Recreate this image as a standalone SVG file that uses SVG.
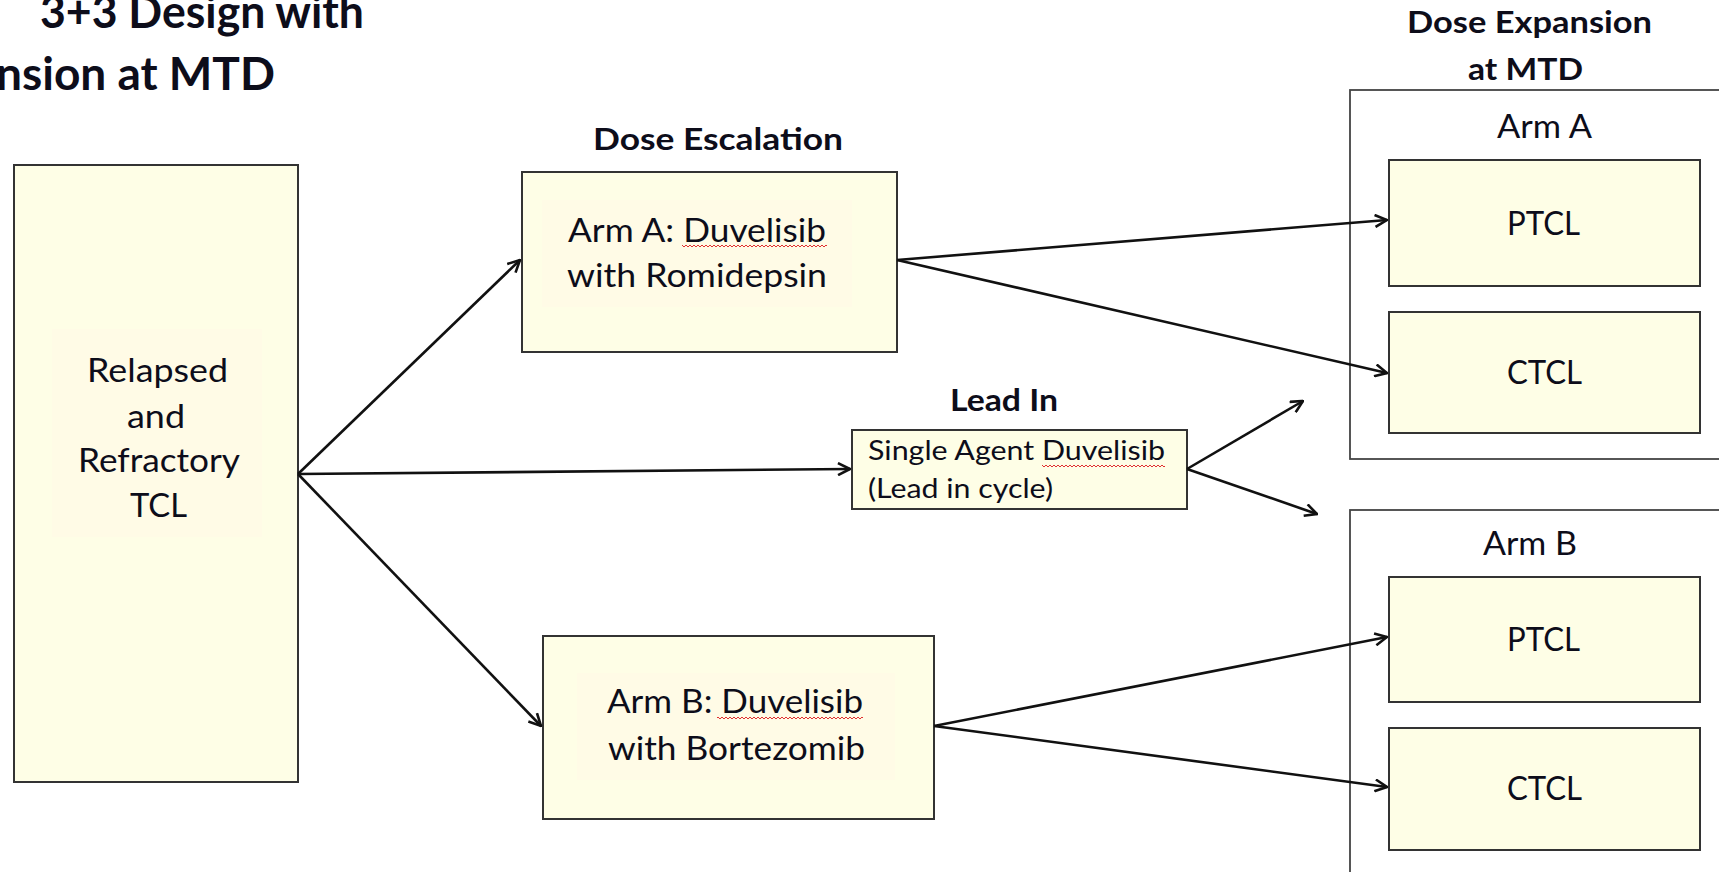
<svg xmlns="http://www.w3.org/2000/svg" width="1719" height="872" viewBox="0 0 1719 872">
<defs>
<style>
.t{font-family:Lato,"Liberation Sans",sans-serif;fill:#0d0d1a}
.b{font-weight:bold}
.box{fill:#fefee6;stroke:#333;stroke-width:2}
.hl{fill:#fffbe6}
.panel{fill:#fff;stroke:#444;stroke-width:1.8}
.c{fill:none;stroke:#111;stroke-width:2.6}
</style>
<marker id="arr" viewBox="0 0 14 14" refX="13" refY="7" markerWidth="14" markerHeight="14" markerUnits="userSpaceOnUse" orient="auto">
<path d="M1,1 L13,7 L1,13" fill="none" stroke="#111" stroke-width="2.6"/>
</marker>
<pattern id="sq" width="4" height="4" patternUnits="userSpaceOnUse">
<path d="M0,3 L2,1 L4,3" fill="none" stroke="#e03030" stroke-width="1"/>
</pattern>
</defs>
<rect width="1719" height="872" fill="#fff"/>

<g id="title">
<text class="t b" x="40" y="28" font-size="45" textLength="324" lengthAdjust="spacingAndGlyphs">3+3 Design with</text>
<text class="t b" x="-4" y="90" font-size="45" textLength="279" lengthAdjust="spacingAndGlyphs">nsion at MTD</text>
</g>

<g id="headers">
<text class="t b" x="593" y="150" font-size="31" textLength="250" lengthAdjust="spacingAndGlyphs">Dose Escalation</text>
<text class="t b" x="950" y="411" font-size="31" textLength="108" lengthAdjust="spacingAndGlyphs">Lead In</text>
<text class="t b" x="1407" y="33" font-size="31" textLength="245" lengthAdjust="spacingAndGlyphs">Dose Expansion</text>
<text class="t b" x="1468" y="80" font-size="31" textLength="115" lengthAdjust="spacingAndGlyphs">at MTD</text>
</g>

<g id="panelA">
<rect class="panel" x="1350" y="90" width="380" height="369"/>
<text class="t" x="1497" y="138" font-size="32" textLength="95" lengthAdjust="spacingAndGlyphs">Arm A</text>
</g>
<g id="panelB">
<rect class="panel" x="1350" y="510" width="380" height="380"/>
<text class="t" x="1483" y="555" font-size="32" textLength="94" lengthAdjust="spacingAndGlyphs">Arm B</text>
</g>

<g id="tcl">
<rect class="box" x="14" y="165" width="284" height="617"/>
<rect class="hl" x="52" y="329" width="210" height="208"/>
<text class="t" x="87" y="382" font-size="32" textLength="141" lengthAdjust="spacingAndGlyphs">Relapsed</text>
<text class="t" x="127" y="428" font-size="32" textLength="58" lengthAdjust="spacingAndGlyphs">and</text>
<text class="t" x="78" y="472" font-size="32" textLength="162" lengthAdjust="spacingAndGlyphs">Refractory</text>
<text class="t" x="130" y="517" font-size="32" textLength="57" lengthAdjust="spacingAndGlyphs">TCL</text>
</g>

<g id="armA">
<rect class="box" x="522" y="172" width="375" height="180"/>
<rect class="hl" x="542" y="200" width="310" height="107"/>
<text class="t" x="568" y="242" font-size="32" textLength="258" lengthAdjust="spacingAndGlyphs">Arm A: Duvelisib</text>
<text class="t" x="567" y="287" font-size="32" textLength="260" lengthAdjust="spacingAndGlyphs">with Romidepsin</text>
<rect x="682" y="244" width="145" height="4" fill="url(#sq)"/>
</g>

<g id="leadin">
<rect class="box" x="852" y="430" width="335" height="79"/>
<text class="t" x="868" y="460" font-size="26" textLength="297" lengthAdjust="spacingAndGlyphs">Single Agent Duvelisib</text>
<text class="t" x="868" y="498" font-size="26" textLength="185" lengthAdjust="spacingAndGlyphs">(Lead in cycle)</text>
<rect x="1042" y="464" width="123" height="4" fill="url(#sq)"/>
</g>

<g id="armB">
<rect class="box" x="543" y="636" width="391" height="183"/>
<rect class="hl" x="577" y="673" width="318" height="107"/>
<text class="t" x="607" y="713" font-size="32" textLength="256" lengthAdjust="spacingAndGlyphs">Arm B: Duvelisib</text>
<text class="t" x="608" y="760" font-size="32" textLength="257" lengthAdjust="spacingAndGlyphs">with Bortezomib</text>
<rect x="717" y="716" width="146" height="4" fill="url(#sq)"/>
</g>

<g id="ptclA">
<rect class="box" x="1389" y="160" width="311" height="126"/>
<text class="t" x="1507" y="235" font-size="32" textLength="73" lengthAdjust="spacingAndGlyphs">PTCL</text>
</g>
<g id="ctclA">
<rect class="box" x="1389" y="312" width="311" height="121"/>
<text class="t" x="1507" y="384" font-size="32" textLength="75" lengthAdjust="spacingAndGlyphs">CTCL</text>
</g>
<g id="ptclB">
<rect class="box" x="1389" y="577" width="311" height="125"/>
<text class="t" x="1507" y="651" font-size="32" textLength="73" lengthAdjust="spacingAndGlyphs">PTCL</text>
</g>
<g id="ctclB">
<rect class="box" x="1389" y="728" width="311" height="122"/>
<text class="t" x="1507" y="800" font-size="32" textLength="75" lengthAdjust="spacingAndGlyphs">CTCL</text>
</g>

<g id="connectors">
<line class="c" x1="298" y1="474" x2="520" y2="260" marker-end="url(#arr)"/>
<line class="c" x1="298" y1="474" x2="850" y2="469" marker-end="url(#arr)"/>
<line class="c" x1="298" y1="474" x2="541" y2="726" marker-end="url(#arr)"/>
<line class="c" x1="897" y1="260" x2="1387" y2="220" marker-end="url(#arr)"/>
<line class="c" x1="897" y1="260" x2="1387" y2="373" marker-end="url(#arr)"/>
<line class="c" x1="1187" y1="469" x2="1303" y2="401" marker-end="url(#arr)"/>
<line class="c" x1="1187" y1="469" x2="1317" y2="514" marker-end="url(#arr)"/>
<line class="c" x1="934" y1="726" x2="1387" y2="637" marker-end="url(#arr)"/>
<line class="c" x1="934" y1="726" x2="1387" y2="787" marker-end="url(#arr)"/>
</g>
</svg>
